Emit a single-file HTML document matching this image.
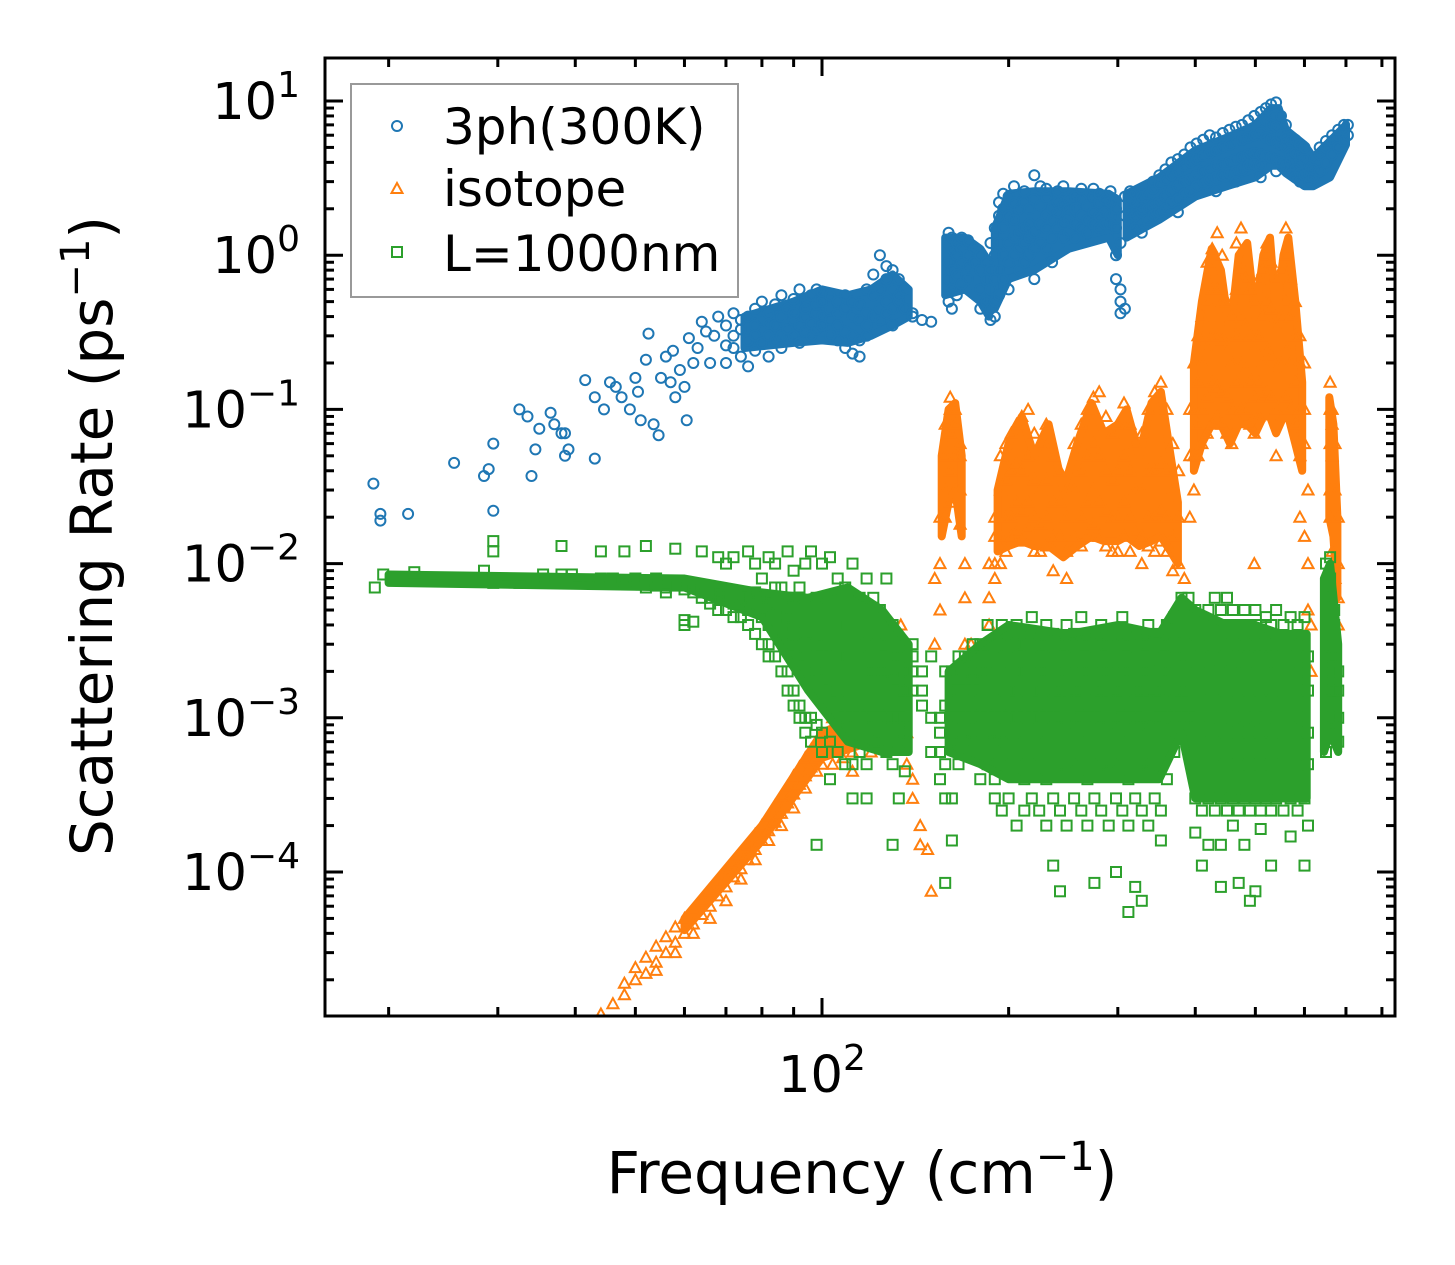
<!DOCTYPE html>
<html><head><meta charset="utf-8">
<style>
html,body{margin:0;padding:0;background:#fff;}
svg{display:block;font-family:"DejaVu Sans","Liberation Sans",sans-serif;}
</style></head>
<body>
<svg id="chart" width="1455" height="1265" viewBox="0 0 1455 1265" xmlns="http://www.w3.org/2000/svg">
<rect x="0" y="0" width="1455" height="1265" fill="#fff"/>
<defs><clipPath id="plotclip"><rect x="325" y="58" width="1070" height="958"/></clipPath></defs>
<g id="marks" clip-path="url(#plotclip)"></g>
<rect x="325" y="58" width="1070" height="958" fill="none" stroke="#000" stroke-width="3"/>
<g id="ticks"></g>
<g id="ylabels"></g>
<text x="822" y="1092" font-size="51" text-anchor="middle">10<tspan dy="-22" font-size="36">2</tspan></text>
<text x="862" y="1193" font-size="58" text-anchor="middle">Frequency (cm<tspan dy="-23" font-size="40">−1</tspan><tspan dy="23">)</tspan></text>
<text transform="translate(112,536) rotate(-90)" font-size="58" text-anchor="middle">Scattering Rate (ps<tspan dy="-23" font-size="40">−1</tspan><tspan dy="23">)</tspan></text>
<g>
<rect x="351" y="84" width="387" height="213" fill="#fff" fill-opacity="0.8" stroke="#999" stroke-width="2"/>
<circle cx="397" cy="126" r="5" fill="none" stroke="#1f77b4" stroke-width="2"/>
<text x="443" y="144" font-size="50">3ph(300K)</text>
<path d="M397,183 L402.5,193 L391.5,193 Z" fill="none" stroke="#ff7f0e" stroke-width="2"/>
<text x="443" y="206" font-size="50">isotope</text>
<rect x="392" y="247" width="10" height="10" fill="none" stroke="#2ca02c" stroke-width="2"/>
<text x="443" y="271" font-size="50">L=1000nm</text>
</g>
</svg>
<script>
const yTickExps = [1, 0, -1, -2, -3, -4];
const xMajorTicks = [100];
// points: [frequency, [rates...]]
const blue3ph = [
[18.9,[.033]],[19.4,[.021,.019]],[21.5,[.021]],[25.5,[.045]],[28.5,[.037]],[29,[.041]],[29.5,[.06,.022]],
[32.5,[.1]],[33.5,[.09]],[34,[.037]],[34.5,[.055]],[35,[.075]],[36.5,[.095]],[37,[.08]],[38,[.07]],[38.5,[.05,.07]],[39,[.055]],
[41.5,[.155]],[43,[.048,.12]],[44.5,[.1]],[45.5,[.15]],[46.5,[.14]],[47.5,[.12]],[49,[.1]],[50,[.16]],[50.5,[.13]],[51,[.085]],
[52,[.21]],[52.5,[.31]],[53.5,[.08]],[54.5,[.068]],[55,[.16]],[56,[.22]],[57,[.15]],[57.5,[.24]],[58,[.12]],[59,[.18]],[60,[.14]],
[60.5,[.085]],[61,[.29]],[62,[.2]],[63,[.25]],[64,[.37]],[65,[.32]],[66,[.2]],[67,[.3]],[68,[.4]],[70,[.26,.35,.2]],
[72,[.3,.42,.25]],[74,[.22,.33,.38]],[76,[.28,.4,.19]],[78,[.3,.45,.24,.35]],[80,[.27,.38,.5]],[82,[.3,.42,.22,.36]],
[84,[.35,.48,.28]],[86,[.3,.4,.55,.25]],[88,[.33,.45,.29]],[90,[.38,.52,.3,.42]],[92,[.35,.6,.27]],[94,[.4,.5,.32,.45]],
[96,[.36,.55,.3]],[98,[.42,.48,.6,.33]],[100,[.4,.5,.35,.58]],[103,[.38,.45,.55,.3]],[106,[.35,.5,.42,.28]],
[109,[.32,.45,.55,.25]],[112,[.3,.4,.5,.23]],[115,[.28,.38,.48,.22]],[118,[.3,.42,.6,.35]],[121,[.4,.55,.75]],
[124,[.45,.6,1.0,.38]],[127,[.5,.7,.42,.85]],[130,[.45,.6,.8,.35]],[133,[.5,.7,.55]],[136,[.45,.6]],[140,[.42,.4]],
[145,[.38]],[150,[.37]],[160,[.9,1.2,.7,.5,1.4]],[162,[.8,1.1,.45,.6,1.3]],[165,[1.0,.75,1.2,.55]],[168,[.9,1.1,.65,1.3]],
[172,[1.0,.85,1.25,.7]],[176,[.9,1.1]],[180,[.6,.8,1.0,.45]],[184,[.7,.5,.9]],[187,[.45,.6,.38,.8,1.2]],
[190,[.5,.7,1.0,1.5,.4]],[193,[.8,1.2,1.8,.55,2.2]],[196,[1.0,1.5,2.0,.7,2.5]],[200,[1.2,1.8,2.4,.9,.6]],
[204,[1.3,1.7,2.2,1.0,2.8]],[208,[1.4,2.0,1.1,.8]],[212,[1.5,2.2,1.2,.9,2.6]],[216,[1.6,2.0,1.3,1.0]],
[220,[1.4,2.3,1.1,.7,3.3]],[225,[1.6,2.1,1.2,2.8]],[230,[1.5,2.4,1.8,1.1,2.7]],[235,[1.3,2.0,1.7,.9]],
[240,[1.5,2.2,1.9,2.6]],[245,[1.6,2.1,1.3,2.8]],[250,[1.7,2.3,1.4,2.0]],[256,[1.6,2.0,1.3,2.4]],[262,[1.8,2.3,1.5,2.7]],
[268,[1.7,2.1,1.4]],[274,[1.9,2.4,1.6,2.7]],[280,[1.8,2.2,1.5,2.5]],[286,[1.9,2.3,1.6]],[292,[1.8,2.2,2.6,1.6]],
[298,[2.0,1.5,1.0,.7]],[303,[.5,.42,.6,1.2]],[308,[.45,1.8,2.4]],[314,[1.9,2.3,1.6,2.6]],[320,[1.8,2.2,2.5,1.5]],
[328,[1.9,2.4,2.0,1.4]],[335,[2.0,2.5,1.7]],[342,[2.1,2.7,1.8,3.0]],[350,[2.2,2.9,1.9,3.3]],[358,[2.4,3.1,2.0,3.6]],
[366,[2.6,3.3,2.2,4.0]],[375,[2.8,3.5,2.3,4.2,1.9]],[384,[3.0,3.8,2.5,4.5]],[393,[3.1,4.0,2.6,5.0]],[402,[3.3,4.2,2.8,5.3]],
[412,[3.5,4.4,3.0,5.6]],[422,[3.6,4.6,3.1,6.0]],[432,[3.8,4.8,3.2,5.8,2.6]],[443,[3.9,5.0,3.3,6.2]],[454,[4.0,5.2,3.4,6.5]],
[465,[4.2,5.4,3.5,6.8,3.0]],[476,[4.3,5.6,3.6,7.0]],[487,[4.5,5.8,3.8,7.5]],[498,[4.6,6.0,3.9,8.0]],[510,[4.5,6.2,3.8,8.5,3.2]],
[520,[4.4,5.8,7.5,9.0]],[530,[4.3,5.6,7.0,9.5]],[540,[4.2,5.4,6.8,9.8,3.5]],[550,[4.0,5.2,6.0,8.0]],[560,[3.8,5.0,5.8,7.0]],
[570,[3.5,4.5,5.5,4.0]],[580,[3.6,4.6,5.6,3.2]],[590,[3.4,4.4,5.2,3.0]],[600,[3.3,4.2,5.0]],[612,[3.0,3.8]],[620,[3.2,3.6]],
[635,[3.5,4.5,5.0]],[650,[4.0,5.0,5.5]],[665,[4.5,5.5,6.0]],[680,[5.0,6.0,6.5]],[695,[5.5,6.5,7.0]],[705,[6.0,7.0]]
];
const orangeIso = [
[44,[1.2e-5]],[46,[1.4e-5]],[48,[1.6e-5,1.9e-5]],[50,[2e-5,2.4e-5]],[52,[2.2e-5,2.8e-5]],[54,[2.6e-5,3.3e-5,2.3e-5]],
[56,[3e-5,3.8e-5]],[58,[3.5e-5,4.4e-5,3e-5]],[60,[4e-5,5e-5]],[62,[4.6e-5,5.7e-5,4e-5]],[64,[5.3e-5,6.5e-5]],
[66,[6e-5,7.5e-5,5e-5]],[68,[7e-5,8.6e-5]],[70,[8e-5,1e-4,6.5e-5]],[72,[9.3e-5,1.15e-4]],[74,[1.05e-4,1.3e-4,9e-5]],
[76,[1.2e-4,1.5e-4]],[78,[1.4e-4,1.75e-4,1.2e-4]],[80,[1.6e-4,2e-4]],[82,[1.85e-4,2.3e-4,1.6e-4]],[84,[2.1e-4,2.7e-4]],
[86,[2.4e-4,3.1e-4,2e-4]],[88,[2.8e-4,3.6e-4]],[90,[3.2e-4,4.2e-4,2.6e-4]],[92,[3.7e-4,4.8e-4]],[94,[4.2e-4,5.5e-4,3.5e-4]],
[96,[4.8e-4,6.2e-4]],[98,[5.5e-4,7e-4,4.5e-4]],[100,[6e-4,8e-4,5e-4]],[104,[6.5e-4,8.5e-4,5e-4,1e-3]],[108,[7e-4,9e-4,5.5e-4]],
[112,[6e-4,8e-4,1e-3,4.5e-4]],[116,[7e-4,9e-4,1.2e-3]],[120,[8e-4,1.1e-3,1.5e-3,6e-4]],[125,[1e-3,1.4e-3,2e-3]],
[130,[1.3e-3,2e-3,3e-3]],[134,[2e-3,3e-3,4e-3,1.5e-3]],[137,[1.5e-3,8e-4,5e-4]],[140,[3e-4,4e-4]],[144,[1.5e-4,2e-4]],
[148,[1.4e-4]],[150,[7.5e-5]],[152,[3e-3,8e-3]],[155,[1e-2,2e-2,5e-3]],[158,[3e-2,5e-2,2e-2,8e-2]],
[161,[4e-2,7e-2,1e-1,.12,2.5e-2]],[164,[5e-2,8e-2,1e-1,3e-2]],[167,[3e-2,5e-2,6e-2,1.8e-2]],[170,[1e-2,6e-3,3e-3]],
[174,[2e-3,3e-3]],[178,[1.2e-3,2e-3]],[182,[1.5e-3,2.5e-3]],[186,[6e-3,1e-2,4e-3]],[190,[1e-2,2e-2,1.5e-2,8e-3]],
[194,[1.5e-2,3e-2,5e-2,1e-2]],[198,[2e-2,3.5e-2,6e-2,1.2e-2]],[202,[2e-2,4e-2,7e-2,1.5e-2]],[206,[2.5e-2,4.5e-2,8e-2,1.6e-2]],
[210,[2.2e-2,4e-2,9e-2,1.4e-2]],[215,[2.5e-2,5e-2,1e-1,1.7e-2]],[220,[2e-2,3.5e-2,7e-2,1.2e-2]],[225,[1.8e-2,3e-2,6e-2,1.2e-2]],
[230,[2e-2,3.5e-2,8e-2,1.3e-2]],[236,[1.5e-2,2.5e-2,5e-2,9e-3]],[242,[1.5e-2,2.5e-2,4e-2]],[248,[1.2e-2,2e-2,3e-2,8e-3]],
[255,[1.5e-2,3e-2,6e-2]],[262,[2e-2,4e-2,8e-2,1.3e-2]],[268,[2.5e-2,5e-2,1e-1,1.5e-2]],[274,[3e-2,6e-2,1.2e-1,1.8e-2]],
[280,[2.5e-2,5e-2,1.3e-1,1.5e-2]],[287,[2.2e-2,4e-2,9e-2,1.3e-2]],[294,[2e-2,3.5e-2,7e-2,1.2e-2]],[300,[2e-2,4e-2,8e-2,1.2e-2]],
[307,[2.5e-2,5e-2,1.1e-1,1.5e-2]],[314,[2e-2,4e-2,8e-2,1.2e-2]],[320,[1.6e-2,3e-2,6e-2]],[328,[1.5e-2,3e-2,7e-2,1e-2]],
[336,[2e-2,4e-2,1e-1,1.3e-2]],[344,[2e-2,4e-2,1.3e-1,1.2e-2]],[352,[2.2e-2,4.5e-2,1.5e-1,1.4e-2]],[360,[2e-2,4e-2,1e-1,1.2e-2]],
[368,[1.5e-2,3e-2,6e-2,9e-3]],[376,[1e-2,2e-2,4e-2]],[384,[5e-3,3e-3,8e-3]],[392,[2e-2,5e-2,1e-1]],[398,[5e-2,1e-1,2e-1,3e-2]],
[404,[8e-2,1.5e-1,3e-1,5e-2]],[410,[1e-1,2e-1,4e-1,6e-2]],[418,[1.2e-1,2.5e-1,5e-1,7e-2,9e-1]],[426,[1.5e-1,3e-1,6e-1,8e-2,1.1]],
[434,[1.4e-1,3e-1,6e-1,9e-2,1.4]],[442,[1.3e-1,2.8e-1,5e-1,8e-2,1.0]],[450,[1.2e-1,2.5e-1,5e-1,7e-2]],[458,[1e-1,2e-1,4e-1,6e-2]],
[466,[1.5e-1,3e-1,6e-1,9e-2,1.2]],[474,[2e-1,4e-1,8e-1,1e-1,1.5]],[482,[1.8e-1,3.5e-1,7e-1,1e-1]],[490,[1.5e-1,3e-1,6e-1,8e-2]],
[498,[1.2e-1,2.5e-1,5e-1,7e-2,1e-2]],[506,[1.5e-1,3e-1,7e-1,9e-2]],[514,[2e-1,4e-1,8e-1,1.2e-1]],[522,[2.5e-1,5e-1,1.0,1.3e-1,1.2]],
[530,[2.2e-1,4.5e-1,9e-1,1.2e-1]],[540,[1.8e-1,3.5e-1,7e-1,1e-1,5e-2]],[550,[2e-1,4e-1,8e-1,1.1e-1]],[560,[2.5e-1,5e-1,1.0,1.2e-1,1.5]],
[570,[2e-1,4e-1,7e-1,1e-1]],[580,[1.5e-1,3e-1,5e-1,8e-2]],[590,[1e-1,2e-1,3e-1,5e-2,2e-2]],[600,[6e-2,1e-1,2e-1,1.5e-2]],
[608,[3e-2,1e-2,5e-3]],[615,[4e-3,2e-3]],[660,[3e-2,6e-2,1e-1,1.5e-1,2e-2]],[665,[5e-2,1e-1,8e-2,1.2e-2]],
[672,[3e-2,6e-2,8e-3]],[680,[1e-2,2e-2,6e-3,4e-3]]
];
const greenBnd = [
[19,[7e-3]],[19.6,[8.5e-3]],[22,[8.8e-3]],[25.3,[8e-3]],[28.5,[9e-3]],[29.5,[7.5e-3,1.4e-2,1.2e-2]],[32.5,[7.5e-3]],
[34.5,[7.5e-3,8e-3]],[35.5,[8.5e-3,8e-3]],[38,[8.5e-3,1.3e-2]],[39.5,[8.5e-3]],[42,[7.8e-3]],[44,[8e-3,1.2e-2]],
[46,[7.6e-3,8e-3]],[48,[7.8e-3,1.2e-2]],[50,[7.5e-3,8e-3]],[52,[7.5e-3,7e-3,1.3e-2]],[54,[7.2e-3,8e-3]],[56,[7e-3,7.5e-3,6.5e-3]],
[58,[7.2e-3,1.25e-2]],[60,[6.8e-3,7.5e-3,4e-3,4.3e-3]],[62,[6.5e-3,7e-3,4.2e-3]],[64,[6.5e-3,7e-3,6e-3,1.2e-2]],
[66,[6e-3,7e-3,5.5e-3]],[68,[6e-3,6.5e-3,5e-3,1.1e-2]],[70,[6e-3,5e-3,6.8e-3,1e-2]],[72,[5.5e-3,6.5e-3,4.5e-3,1.1e-2]],
[74,[5.5e-3,6e-3,4.5e-3]],[76,[5e-3,6e-3,4e-3,1.2e-2]],[78,[5e-3,6.5e-3,3.5e-3,1e-2]],[80,[4.5e-3,6e-3,3e-3,8e-3]],
[82,[4e-3,5.5e-3,3e-3,2.5e-3,1.1e-2]],[84,[4e-3,5e-3,2.5e-3,7e-3,1e-2]],[86,[3.5e-3,5e-3,2e-3,7e-3]],
[88,[3e-3,4.5e-3,2e-3,6e-3,1.5e-3,1.2e-2]],[90,[3e-3,4e-3,1.5e-3,6e-3,1.2e-3,9e-3]],[92,[2.5e-3,4e-3,1.2e-3,7e-3,1e-3]],
[94,[2.5e-3,3.5e-3,1e-3,5e-3,8e-4,1e-2]],[96,[2e-3,3.5e-3,1e-3,5e-3,7e-4,1.2e-2]],[98,[2e-3,3e-3,9e-4,6e-3,1.5e-4]],
[100,[1.8e-3,3e-3,8e-4,5e-3,6e-4,1e-2]],[103,[1.5e-3,3e-3,7e-4,5e-3,1.1e-2,4e-4]],[106,[1.5e-3,2.5e-3,6e-4,4e-3,8e-3,1e-3]],
[109,[1.2e-3,2.5e-3,5e-4,4e-3,7e-3,9e-4]],[112,[1e-3,2e-3,5e-4,4e-3,1e-2,3e-4]],[115,[1.2e-3,2.5e-3,6e-4,3.5e-3,6e-3]],
[118,[1e-3,2e-3,5e-4,3e-3,8e-3,3e-4]],[121,[1e-3,2e-3,4e-3,6e-3,7e-4]],[124,[1.2e-3,2e-3,3e-3,5e-3,7e-4]],
[127,[1e-3,2e-3,3e-3,6e-4,8e-3]],[130,[1e-3,1.8e-3,2.5e-3,4e-3,5e-4,1.5e-4]],[133,[1e-3,1.5e-3,2.5e-3,7e-4,3e-4]],
[136,[1e-3,1.5e-3,2e-3,8e-4,4.5e-4]],[140,[1.5e-3,2e-3,2.5e-3,3e-3]],[145,[2e-3,1.5e-3,1.2e-3]],[150,[2.5e-3,1e-3,6e-4]],
[155,[1e-3,8e-4,6e-4,4e-4]],[158,[1.2e-3,2e-3,5e-4,3e-4,8.5e-5]],[162,[1e-3,1.5e-3,2e-3,7e-4,3e-4,1.6e-4]],
[166,[1.2e-3,1.8e-3,2.5e-3,8e-4,5e-4]],[170,[1e-3,1.5e-3,2e-3,2.5e-3,7e-4]],[175,[1.2e-3,1.8e-3,2.5e-3,8e-4,3e-3]],
[180,[1e-3,1.5e-3,2e-3,3e-3,6e-4,4e-4]],[185,[8e-4,1.2e-3,2e-3,3e-3,5e-4,4e-3]],[190,[7e-4,1e-3,1.5e-3,2.5e-3,4e-4,3e-4]],
[195,[8e-4,1.2e-3,2e-3,3e-3,5e-4,2.5e-4,4e-3]],[200,[1e-3,1.5e-3,2.5e-3,3.5e-3,6e-4,3e-4]],
[206,[1e-3,1.5e-3,2e-3,3e-3,5e-4,2e-4,4e-3]],[212,[8e-4,1.2e-3,2e-3,3e-3,4e-4,2.5e-4]],
[218,[1e-3,1.5e-3,2.5e-3,3.5e-3,6e-4,3e-4,4.5e-3]],[224,[1e-3,1.5e-3,2e-3,3e-3,5e-4,2.5e-4]],
[230,[8e-4,1.2e-3,2e-3,3e-3,4e-4,2e-4,4e-3]],[236,[1e-3,1.5e-3,2.5e-3,3.5e-3,6e-4,3e-4,1.1e-4]],
[242,[1e-3,1.5e-3,2e-3,3e-3,5e-4,2.5e-4,7.5e-5]],[248,[9e-4,1.3e-3,2e-3,3e-3,4.5e-4,2e-4,4e-3]],
[255,[1e-3,1.5e-3,2.5e-3,3.5e-3,6e-4,3e-4]],[262,[1e-3,1.5e-3,2e-3,3e-3,5e-4,2.5e-4,4.5e-3]],
[268,[8e-4,1.2e-3,2e-3,3e-3,4e-4,2e-4]],[275,[1e-3,1.5e-3,2.5e-3,3.5e-3,6e-4,3e-4,8.5e-5]],
[282,[1e-3,1.5e-3,2e-3,3e-3,5e-4,2.5e-4,4e-3]],[290,[9e-4,1.3e-3,2e-3,3e-3,4.5e-4,2e-4]],
[298,[1e-3,1.5e-3,2.5e-3,3.5e-3,6e-4,3e-4,1e-4]],[305,[1e-3,1.5e-3,2e-3,3e-3,5e-4,2.5e-4,4.5e-3]],
[312,[8e-4,1.2e-3,2e-3,3e-3,4e-4,2e-4,5.5e-5]],[320,[1e-3,1.5e-3,2.5e-3,3.5e-3,6e-4,3e-4,8e-5]],
[328,[1e-3,1.5e-3,2e-3,3e-3,5e-4,2.5e-4,6.5e-5]],[336,[9e-4,1.3e-3,2e-3,3e-3,4.5e-4,2e-4,4e-3]],
[344,[1e-3,1.5e-3,2.5e-3,3.5e-3,6e-4,3e-4]],[352,[1e-3,1.5e-3,2e-3,3e-3,5e-4,2.5e-4,1.6e-4]],
[360,[8e-4,1.2e-3,2e-3,3e-3,4e-4,4e-3]],[370,[1e-3,1.5e-3,2.5e-3,3.5e-3,6e-4,4.5e-3]],
[380,[1.5e-3,2.5e-3,3.5e-3,5e-3,1e-3,6e-3]],[390,[1.5e-3,2.5e-3,4e-3,6e-3,1e-3,7e-4]],
[400,[1e-3,2e-3,3e-3,5e-3,6e-4,3e-4,1.8e-4]],[410,[8e-4,1.5e-3,2.5e-3,4e-3,5e-4,2.5e-4,1.1e-4]],
[420,[1e-3,2e-3,3e-3,5e-3,6e-4,3e-4,1.5e-4]],[430,[8e-4,1.5e-3,2.5e-3,4e-3,5e-4,2.5e-4,6e-3]],
[440,[1e-3,2e-3,3e-3,5e-3,6e-4,3e-4,1.5e-4,8e-5]],[450,[8e-4,1.5e-3,2.5e-3,4e-3,5e-4,2.5e-4,6e-3]],
[460,[1e-3,2e-3,3e-3,5e-3,6e-4,3e-4,2e-4]],[470,[8e-4,1.5e-3,2.5e-3,4e-3,5e-4,2.5e-4,8.5e-5]],
[480,[1e-3,2e-3,3e-3,5e-3,6e-4,3e-4,1.5e-4]],[490,[8e-4,1.5e-3,2.5e-3,4e-3,5e-4,2.5e-4,6.5e-5]],
[500,[1e-3,2e-3,3e-3,5e-3,6e-4,3e-4,7.5e-5]],[510,[8e-4,1.5e-3,2.5e-3,4e-3,5e-4,2.5e-4,1.9e-4]],
[520,[1e-3,2e-3,3e-3,4.5e-3,6e-4,3e-4]],[530,[8e-4,1.5e-3,2.5e-3,4e-3,5e-4,2.5e-4,1.1e-4]],
[540,[1e-3,2e-3,3e-3,5e-3,6e-4,3e-4]],[555,[8e-4,1.5e-3,2.5e-3,4e-3,5e-4,2.5e-4]],
[570,[1e-3,2e-3,3e-3,4.5e-3,6e-4,3e-4,1.7e-4]],[585,[8e-4,1.5e-3,2.5e-3,4e-3,5e-4,2.5e-4]],
[600,[1e-3,2e-3,3e-3,4.5e-3,6e-4,3e-4,1.1e-4]],[608,[8e-4,1.5e-3,2.5e-3,5e-4,2e-4]],
[650,[2e-3,3e-3,5e-3,1e-3,6e-4,1e-2]],[660,[2.5e-3,4e-3,6e-3,1.5e-3,8e-3,1.1e-2]],[670,[1.5e-3,2.5e-3,4e-3,9e-4,5e-3]],
[680,[1e-3,1.5e-3,2e-3,7e-4]]
];
// dense-cloud envelopes: segments of [frequency, low rate, high rate]
const blueBands = [
[[75,.25,.4],[90,.27,.5],[100,.28,.6],[110,.27,.55],[120,.3,.6],[130,.35,.75],[138,.4,.6]],
[[158,.55,1.3],[170,.6,1.3],[180,.5,1.1],[186,.4,.9]],
[[190,.45,1.5],[200,.7,2.5],[220,.8,2.6],[250,1.1,2.6],[290,1.3,2.5],[300,1.0,2.3]],
[[310,1.3,2.5],[350,1.7,3.2],[400,2.4,4.8],[450,2.8,5.8],[500,3.2,7],[530,3.8,9],[545,3.8,9],[560,3.4,6.5],[600,2.8,5.2],[620,2.8,4.3],[660,3.2,5.5],[700,5.2,7]]
];
const orangeBands = [
[[60,4.2e-5,5e-5],[80,1.6e-4,2e-4],[100,5.5e-4,8e-4],[120,7e-4,1.1e-3],[130,1.3e-3,2e-3]],
[[156,1.5e-2,5e-2],[160,2.5e-2,1e-1],[164,3e-2,1.1e-1],[168,1.5e-2,5e-2]],
[[192,1.2e-2,3e-2],[200,1.3e-2,6e-2],[210,1.4e-2,9e-2],[220,1.3e-2,5e-2],[232,1.3e-2,8e-2],[245,1.1e-2,3e-2],[258,1.3e-2,6e-2],[272,1.5e-2,1.1e-1],[285,1.4e-2,7e-2],[300,1.4e-2,8e-2],[310,1.5e-2,1e-1],[325,1.3e-2,5e-2],[340,1.4e-2,1.1e-1],[352,1.5e-2,1.3e-1],[365,1.2e-2,5e-2],[375,1e-2,2.5e-2]],
[[398,4e-2,2e-1],[410,6e-2,5e-1],[425,8e-2,1.1],[440,8e-2,8e-1],[455,6e-2,3e-1],[470,8e-2,1.0],[485,8e-2,1.2],[500,7e-2,4e-1],[515,9e-2,1.0],[528,9e-2,1.3],[540,7e-2,4e-1],[555,9e-2,1.0],[565,9e-2,1.3],[580,6e-2,5e-1],[595,4e-2,1.5e-1]],
[[658,2e-2,1.2e-1],[668,1.5e-2,8e-2],[678,6e-3,2e-2]]
];
const greenBands = [
[[20,7.5e-3,8.5e-3],[60,7e-3,8e-3],[80,4.5e-3,6.5e-3],[95,1.5e-3,6e-3],[110,7e-4,7e-3],[125,6e-4,5e-3],[138,6e-4,3e-3]],
[[160,6e-4,2e-3],[180,5e-4,3e-3],[200,4e-4,4e-3],[250,4e-4,3.5e-3],[300,4e-4,4e-3],[350,4e-4,3.5e-3],[380,8e-4,6e-3],[400,3e-4,5e-3],[450,3e-4,4e-3],[500,3e-4,4e-3],[550,3e-4,3.5e-3],[605,3e-4,3.5e-3]],
[[645,6e-4,8e-3],[660,8e-4,1e-2],[680,6e-4,3e-3]]
];

const NS = 'http://www.w3.org/2000/svg';
function xScale(f){ return 822 + 620*(Math.log10(f) - 2); }
function yScale(r){ return 101 + 154.2*(1 - Math.log10(r)); }
const marks = document.getElementById('marks');
const ticks = document.getElementById('ticks');
const ylabels = document.getElementById('ylabels');

function drawBands(bands, color, name){
  bands.forEach(function(seg){
    let top = seg.map(p => xScale(p[0]).toFixed(1)+','+yScale(p[2]).toFixed(1));
    let bot = seg.slice().reverse().map(p => xScale(p[0]).toFixed(1)+','+yScale(p[1]).toFixed(1));
    const pg = document.createElementNS(NS,'polygon');
    pg.setAttribute('points', top.concat(bot).join(' '));
    pg.setAttribute('fill', color);
    pg.setAttribute('stroke', color);
    pg.setAttribute('stroke-width', '8');
    pg.setAttribute('stroke-linejoin', 'round');
    
    
    marks.appendChild(pg);
  });
}
function drawPoints(data, color, shape, name){
  const g = document.createElementNS(NS,'g');
  
  
  g.setAttribute('fill','none');
  g.setAttribute('stroke',color);
  g.setAttribute('stroke-width','2');
  data.forEach(function(d){
    const x = xScale(d[0]);
    d[1].forEach(function(r){
      const y = yScale(r);
      let el;
      if(shape==='circle'){
        el = document.createElementNS(NS,'circle');
        el.setAttribute('cx',x.toFixed(1)); el.setAttribute('cy',y.toFixed(1)); el.setAttribute('r','5');
      } else if(shape==='tri'){
        el = document.createElementNS(NS,'path');
        el.setAttribute('d','M'+x.toFixed(1)+','+(y-5.5).toFixed(1)+' l5.5,10 l-11,0 Z');
      } else {
        el = document.createElementNS(NS,'rect');
        el.setAttribute('x',(x-5).toFixed(1)); el.setAttribute('y',(y-5).toFixed(1));
        el.setAttribute('width','10'); el.setAttribute('height','10');
      }
      
      
      g.appendChild(el);
    });
  });
  marks.appendChild(g);
}
drawBands(blueBands, '#1f77b4', 'band-3ph');
drawPoints(blue3ph, '#1f77b4', 'circle', 'series-3ph');
drawBands(orangeBands, '#ff7f0e', 'band-isotope');
drawPoints(orangeIso, '#ff7f0e', 'tri', 'series-isotope');
drawBands(greenBands, '#2ca02c', 'band-boundary');
drawPoints(greenBnd, '#2ca02c', 'square', 'series-boundary');

function tick(x1,y1,x2,y2,name){
  const l = document.createElementNS(NS,'line');
  l.setAttribute('x1',x1); l.setAttribute('y1',y1); l.setAttribute('x2',x2); l.setAttribute('y2',y2);
  l.setAttribute('stroke','#000'); l.setAttribute('stroke-width','3');
  
  
  ticks.appendChild(l);
}
for(let e=-5; e<=1; e++){
  for(let m=1; m<=9; m++){
    const v = m*Math.pow(10,e);
    const y = yScale(v);
    if(y<58 || y>1016) continue;
    const len = m===1 ? 18 : 9;
    tick(325,y,325+len,y,'y-tick');
    tick(1395,y,1395-len,y,'y-tick-right');
  }
}
yTickExps.forEach(function(e){
  const t = document.createElementNS(NS,'text');
  t.setAttribute('x','300'); t.setAttribute('y',(yScale(Math.pow(10,e))+18).toFixed(1));
  t.setAttribute('font-size','51'); t.setAttribute('text-anchor','end');
  
  
  const base = document.createElementNS(NS,'tspan'); base.textContent='10';
  const sup = document.createElementNS(NS,'tspan'); sup.setAttribute('dy','-22'); sup.setAttribute('font-size','36');
  sup.textContent = e<0 ? '−'+Math.abs(e) : String(e);
  t.appendChild(base); t.appendChild(sup);
  ylabels.appendChild(t);
});
for(let e=1; e<=2; e++){
  for(let m=1; m<=9; m++){
    const v = m*Math.pow(10,e);
    const x = xScale(v);
    if(x<325 || x>1395) continue;
    const len = xMajorTicks.indexOf(v)>=0 ? 18 : 9;
    tick(x,1016,x,1016-len,'x-tick');
    tick(x,58,x,58+len,'x-tick-top');
  }
}
</script>
</body></html>
